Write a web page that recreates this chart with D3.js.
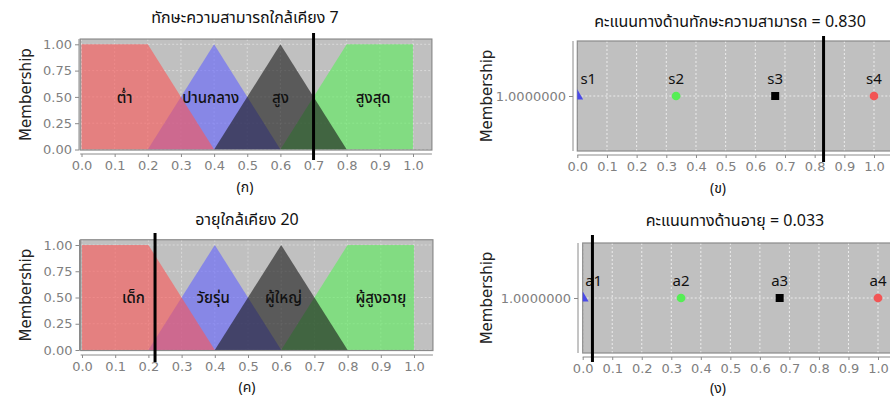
<!DOCTYPE html>
<html><head><meta charset="utf-8">
<script src="https://cdn.jsdelivr.net/npm/d3@7"></script>
<style>
html,body{margin:0;padding:0;background:#fff;}
svg{display:block;}
.thai{font-family:"Noto Sans Thai","Noto Sans Thai UI","Loma","Garuda","Tahoma","Noto Sans",sans-serif;}
.tick{font-family:"DejaVu Sans","Verdana",sans-serif;}
</style>
</head><body>
<svg id="c" width="890" height="398"></svg>
<script>
// ---- data ----
const xTicks = [0, 0.1, 0.2, 0.3, 0.4, 0.5, 0.6, 0.7, 0.8, 0.9, 1.0];
const yTicks = [0, 0.25, 0.5, 0.75, 1.0];
const setShapes = [
  [[0,0],[0,1],[0.2,1],[0.4,0]],
  [[0.2,0],[0.4,1],[0.6,0]],
  [[0.4,0],[0.6,1],[0.8,0]],
  [[0.6,0],[0.8,1],[1.0,1],[1.0,0]]
];
const setColors = ["rgb(252,85,85)", "rgb(97,97,255)", "rgb(22,22,22)", "rgb(89,239,89)"];
const drawOrder = [1, 3, 0, 2];
const skillTitle = "ทักษะความสามารถใกล้เคียง 7";
const skillLabels = ["ต่ำ", "ปานกลาง", "สูง", "สูงสุด"];
const skillLabelX = [0.13, 0.39, 0.60, 0.88];
const skillInput = 0.7;
const ageTitle = "อายุใกล้เคียง 20";
const ageLabels = ["เด็ก", "วัยรุ่น", "ผู้ใหญ่", "ผู้สูงอายุ"];
const ageLabelX = [0.155, 0.395, 0.607, 0.90];
const ageInput = 0.22;
const scoreLevels = [0, 0.333, 0.667, 1.0];
const scoreMembership = [1, 1, 1, 1];
const skillScoreNames = ["s1", "s2", "s3", "s4"];
const ageScoreNames = ["a1", "a2", "a3", "a4"];
const skillScore = 0.830;
const ageScore = 0.033;
const skillScoreTitle = "คะแนนทางด้านทักษะความสามารถ = ";
const ageScoreTitle = "คะแนนทางด้านอายุ = ";
const markerShapes = [d3.symbolTriangle, d3.symbolCircle, d3.symbolSquare, d3.symbolCircle];
const markerColors = ["#4a4ae8", "#55ee55", "#000000", "#f25555"];
const captions = ["(ก)", "(ข)", "(ค)", "(ง)"];

const svg = d3.select("#c");
const axisGray = "#8a8a8a";
const tickGray = "#808080";

function styleAxis(a, bx0, bx1, by0, by1, horiz) {
  if (horiz) a.select(".domain").attr("d", `M${bx0},0H${bx1}`).attr("stroke", axisGray);
  else a.select(".domain").attr("d", `M0,${by1}V${by0}`).attr("stroke", axisGray);
  a.selectAll("line").attr("stroke", axisGray);
  a.selectAll("text").attr("class", "tick").attr("font-size", 13).attr("fill", tickGray);
}

function drawFuzzy(L, title, labels, labelX, input, caption) {
  const g = svg.append("g");
  const x = d3.scaleLinear().domain([0,1]).range([L.x0, L.x1]);
  const y = d3.scaleLinear().domain([0,1]).range([L.y0, L.y1]);
  const bx0 = x(-0.004), bx1 = x(1.057), by0 = y(-0.005), by1 = y(1.05);
  g.append("rect").attr("x", bx0).attr("y", by1).attr("width", bx1-bx0).attr("height", by0-by1)
    .attr("fill", "#c0c0c0");
  g.selectAll(".gx").data(xTicks).join("line")
    .attr("x1", d=>x(d)).attr("x2", d=>x(d)).attr("y1", by1).attr("y2", by0)
    .attr("stroke", "#fff").attr("stroke-opacity", 0.4).attr("stroke-dasharray", "2,2");
  g.selectAll(".gy").data(yTicks).join("line")
    .attr("x1", bx0).attr("x2", bx1).attr("y1", d=>y(d)).attr("y2", d=>y(d))
    .attr("stroke", "#fff").attr("stroke-opacity", 0.4).attr("stroke-dasharray", "2,2");
  const line = d3.line().x(d=>x(d[0])).y(d=>y(d[1]));
  g.selectAll(".set").data(drawOrder).join("path")
    .attr("d", i => line(setShapes[i]) + "Z")
    .attr("fill", i => setColors[i]).attr("fill-opacity", 0.6);
  g.append("rect").attr("x", bx0).attr("y", by1).attr("width", bx1-bx0).attr("height", by0-by1)
    .attr("fill", "none").attr("stroke", axisGray).attr("stroke-width", 1.2);
  g.selectAll(".lbl").data(labels).join("text").attr("class", "thai")
    .attr("x", (d,i)=>x(labelX[i])).attr("y", y(0.5)).attr("dy", "0.38em")
    .attr("text-anchor", "middle").attr("font-size", 15).attr("font-weight", 500).attr("fill", "#111").text(d=>d);
  const xa = g.append("g").attr("transform", `translate(0,${L.xAxisY})`)
    .call(d3.axisBottom(x).tickValues(xTicks).tickFormat(d3.format(".1f")).tickSize(3).tickPadding(4));
  styleAxis(xa, bx0, bx1, by0, by1, true);
  const ya = g.append("g").attr("transform", `translate(${L.yAxisX},0)`)
    .call(d3.axisLeft(y).tickValues(yTicks).tickFormat(d3.format(".2f")).tickSize(4).tickPadding(3));
  styleAxis(ya, bx0, bx1, by0, by1, false);
  g.append("text").attr("transform", `translate(${L.ylabX},${(by0+by1)/2}) rotate(-90)`)
    .attr("text-anchor", "middle").attr("font-family", "DejaVu Sans, sans-serif").attr("font-size", 15)
    .attr("fill", "#222").text("Membership");
  g.append("line").attr("x1", x(input)).attr("x2", x(input)).attr("y1", L.lineTop).attr("y2", L.lineBot)
    .attr("stroke", "#000").attr("stroke-width", 3);
  g.append("text").attr("class", "thai").attr("x", L.titleX).attr("y", L.titleY).attr("text-anchor", "middle")
    .attr("font-size", 16).attr("fill", "#111").text(title);
  g.append("text").attr("class", "thai").attr("x", L.titleX).attr("y", L.capY).attr("text-anchor", "middle")
    .attr("font-size", 14).attr("fill", "#111").text(caption);
}

function drawScore(L, title, names, score, caption) {
  const g = svg.append("g");
  const x = d3.scaleLinear().domain([0,1]).range([L.x0, L.x1]);
  const y = d3.scaleLinear().domain([0,2]).range([L.y0, L.y1]);
  const bx0 = x(0), bx1 = x(1.07), by0 = y(0), by1 = y(2);
  g.append("rect").attr("x", bx0).attr("y", by1).attr("width", bx1-bx0).attr("height", by0-by1)
    .attr("fill", "#c0c0c0");
  g.selectAll(".gx").data(xTicks).join("line")
    .attr("x1", d=>x(d)).attr("x2", d=>x(d)).attr("y1", by1).attr("y2", by0)
    .attr("stroke", "#fff").attr("stroke-opacity", 0.7).attr("stroke-dasharray", "2,2");
  g.append("line").attr("x1", bx0).attr("x2", bx1).attr("y1", y(1)).attr("y2", y(1))
    .attr("stroke", "#fff").attr("stroke-opacity", 0.7).attr("stroke-dasharray", "2,2");
  g.append("rect").attr("x", bx0).attr("y", by1).attr("width", bx1-bx0).attr("height", by0-by1)
    .attr("fill", "none").attr("stroke", axisGray).attr("stroke-width", 1.2);
  const cid = "clip" + L.id;
  svg.append("clipPath").attr("id", cid).append("rect")
    .attr("x", bx0).attr("y", by1).attr("width", bx1-bx0).attr("height", by0-by1);
  const mg = g.append("g").attr("clip-path", `url(#${cid})`);
  mg.selectAll(".m").data(scoreLevels).join("path")
    .attr("transform", (d,i)=>`translate(${x(d)},${y(scoreMembership[i])})`)
    .attr("d", (d,i)=>d3.symbol().type(markerShapes[i]).size(i===2 ? 64 : 60)())
    .attr("fill", (d,i)=>markerColors[i]);
  g.selectAll(".nm").data(names).join("text").attr("class", "thai")
    .attr("x", (d,i)=>Math.max(x(scoreLevels[i]), bx0 + 11))
    .attr("y", (d,i)=>y(scoreMembership[i]) - 12)
    .attr("text-anchor", "middle").attr("font-size", 15).attr("fill", "#111").text(d=>d);
  const xa = g.append("g").attr("transform", `translate(0,${L.xAxisY})`)
    .call(d3.axisBottom(x).tickValues(xTicks).tickFormat(d3.format(".1f")).tickSize(3).tickPadding(4));
  styleAxis(xa, bx0, bx1, by0, by1, true);
  const ya = g.append("g").attr("transform", `translate(${L.yAxisX},0)`)
    .call(d3.axisLeft(y).tickValues([1]).tickFormat(d3.format(".7f")).tickSize(4).tickPadding(3));
  styleAxis(ya, bx0, bx1, by0, by1, false);
  g.append("text").attr("transform", `translate(${L.ylabX},${(by0+by1)/2}) rotate(-90)`)
    .attr("text-anchor", "middle").attr("font-family", "DejaVu Sans, sans-serif").attr("font-size", 15)
    .attr("fill", "#222").text("Membership");
  g.append("line").attr("x1", x(score)).attr("x2", x(score)).attr("y1", L.lineTop).attr("y2", L.lineBot)
    .attr("stroke", "#000").attr("stroke-width", 3);
  g.append("text").attr("class", "thai").attr("x", L.titleX).attr("y", L.titleY).attr("text-anchor", "middle")
    .attr("font-size", 16).attr("fill", "#111").text(title + d3.format(".3f")(score));
  g.append("text").attr("class", "thai").attr("x", L.capX).attr("y", L.capY).attr("text-anchor", "middle")
    .attr("font-size", 14).attr("fill", "#111").text(caption);
}

drawFuzzy({x0:81.5, x1:413, y0:149.5, y1:44.3, xAxisY:154, yAxisX:79, ylabX:31,
  lineTop:33, lineBot:160, titleX:245, titleY:23, capY:192}, skillTitle, skillLabels, skillLabelX, skillInput, captions[0]);
drawFuzzy({x0:82, x1:414, y0:350, y1:245, xAxisY:355, yAxisX:79.5, ylabX:31,
  lineTop:233, lineBot:362, titleX:247, titleY:225, capY:392}, ageTitle, ageLabels, ageLabelX, ageInput, captions[2]);
drawScore({id:1, x0:577.3, x1:874, y0:151, y1:41, xAxisY:155, yAxisX:573, ylabX:492,
  lineTop:36, lineBot:162, titleX:730, titleY:27, capX:718, capY:193}, skillScoreTitle, skillScoreNames, skillScore, captions[1]);
drawScore({id:2, x0:582.7, x1:878, y0:353, y1:243, xAxisY:357, yAxisX:578, ylabX:492,
  lineTop:235, lineBot:362, titleX:735, titleY:226, capX:718, capY:393}, ageScoreTitle, ageScoreNames, ageScore, captions[3]);
</script>
</body></html>
